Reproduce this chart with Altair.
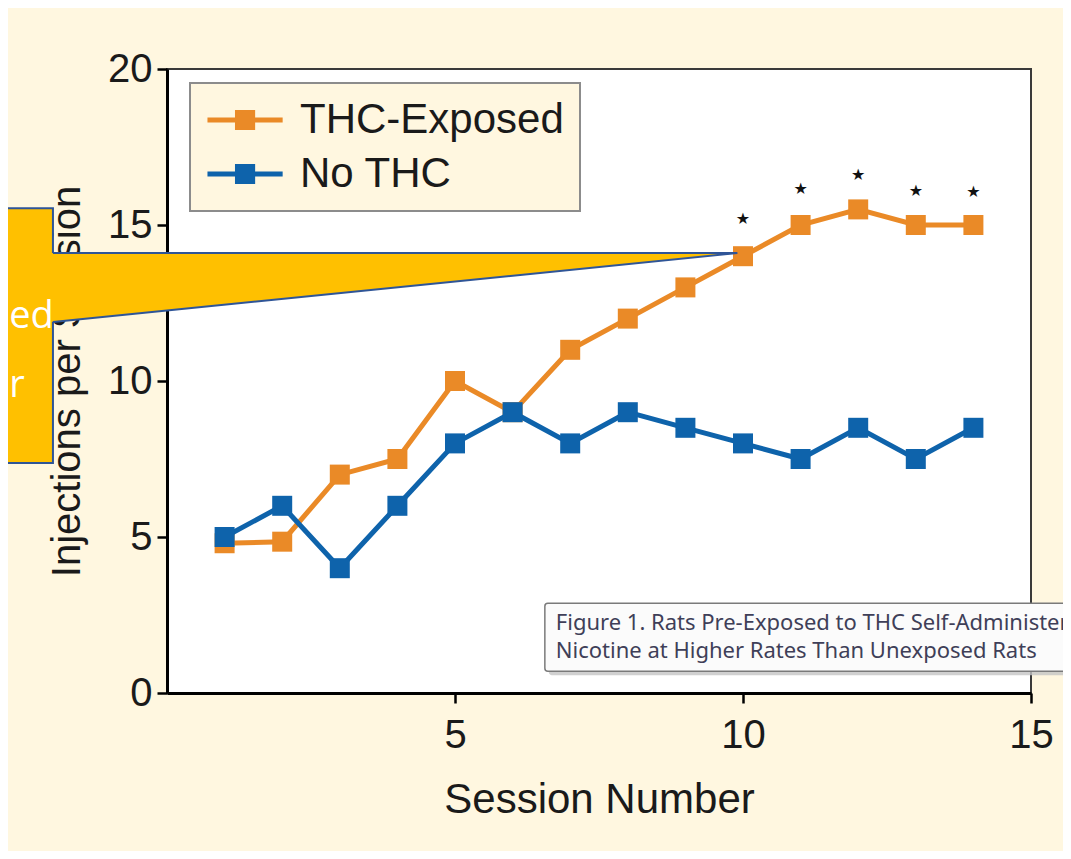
import altair as alt
import pandas as pd

# ---------------- data ----------------
sessions = list(range(1, 15))
thc_exposed = [4.8, 4.85, 7.0, 7.5, 10.0, 9.0, 11.0, 12.0, 13.0, 14.0, 15.0, 15.5, 15.0, 15.0]
no_thc = [5.0, 6.0, 4.0, 6.0, 8.0, 9.0, 8.0, 9.0, 8.5, 8.0, 7.5, 8.5, 7.5, 8.5]
series_names = ["THC-Exposed", "No THC"]
series_colors = ["#EA8A27", "#0E63AB"]
star_sessions = [10, 11, 12, 13, 14]
star_levels = [15.2, 16.15, 16.6, 16.1, 16.05]
x_tick_values = [5, 10, 15]
y_tick_values = [0, 5, 10, 15, 20]
caption_lines = [
    "Figure 1. Rats Pre-Exposed to THC Self-Administer",
    "Nicotine at Higher Rates Than Unexposed Rats",
]
callout_words = ["ed", "r"]

# ---------------- annotation geometry (data units) ----------------
callout_box = dict(x=[-3.3], x2=[-1.98], y=[7.37], y2=[15.54])
wedge = dict(x=[-2.03, 9.9], y=[14.1, 14.1], y2=[11.89, 14.1])
wedge_edges = dict(edge=["top", "top", "bottom", "bottom"],
                   x=[-1.98, 9.9, -1.98, 9.9], y=[14.1, 14.1, 11.89, 14.1])
callout_text_pos = dict(x=[-2.74, -2.74], y=[11.7, 9.5])
caption_box = dict(x=[6.56], x2=[16.5], y=[0.70], y2=[2.88])
caption_text_pos = dict(x=[6.75, 6.75], y=[2.02, 1.12])

FONT = "Liberation Sans"
W, H = 864, 624
BG = "#FFF7E0"
GOLD = "#FFC000"
EDGE = "#2F5597"

xs = alt.Scale(domain=[0, 15], nice=False, zero=False)
ys = alt.Scale(domain=[0, 20], nice=False, zero=False)

x_axis = alt.Axis(values=x_tick_values, title="Session Number", grid=False,
                  labelFont=FONT, labelFontSize=40, labelColor="#1a1a1a",
                  labelPadding=12, labelFlush=False, labelOverlap=False,
                  tickSize=10, tickWidth=2.5, tickColor="black",
                  domainColor="black", domainWidth=3,
                  titleFont=FONT, titleFontSize=42, titleFontWeight="normal",
                  titleColor="#1a1a1a", titlePadding=24)
y_axis = alt.Axis(values=y_tick_values, title="Injections per Session", grid=False,
                  labelFont=FONT, labelFontSize=40, labelColor="#1a1a1a",
                  labelPadding=5, labelFlush=False, labelOverlap=False,
                  tickSize=10, tickWidth=2.5, tickColor="black",
                  domainColor="black", domainWidth=3,
                  titleFont=FONT, titleFontSize=40, titleFontWeight="normal",
                  titleColor="#1a1a1a", titlePadding=20)

# legend glyph: a short line with a square on it (unit = 21 px)
legend_path = ("M-0.93,-0.12L2.65,-0.12L2.65,0.12L-0.93,0.12Z "
               "M0.38,-0.48L1.34,-0.48L1.34,0.48L0.38,0.48Z")
legend = alt.Legend(title=None, orient="none", legendX=23, legendY=14,
                    fillColor=BG, strokeColor="#8c8c8c",
                    padding=16, labelFont=FONT, labelFontSize=42,
                    labelColor="#1a1a1a", labelLimit=500, labelOffset=52,
                    labelExpr="datum.label + '\u00a0\u00a0\u00a0'",
                    symbolType=legend_path, symbolSize=1764,
                    symbolStrokeWidth=0, symbolOpacity=1, rowPadding=12)

color_scale = alt.Scale(domain=series_names, range=series_colors)

rows = []
for name, vals in zip(series_names, [thc_exposed, no_thc]):
    for s, v in zip(sessions, vals):
        rows.append({"session": s, "value": v, "series": name})
df = pd.DataFrame(rows)

def ax(field):
    return alt.X(field, type="quantitative", scale=xs, axis=x_axis)

def ay(field):
    return alt.Y(field, type="quantitative", scale=ys, axis=y_axis)

layers = []
for name in series_names:
    sub = df[df["series"] == name]
    line = alt.Chart(sub).mark_line(strokeWidth=5).encode(
        x=ax("session"), y=ay("value"),
        color=alt.Color("series:N", scale=color_scale, legend=legend))
    pts = alt.Chart(sub).mark_square(size=400, opacity=1).encode(
        x=ax("session"), y=ay("value"),
        color=alt.Color("series:N", scale=color_scale, legend=legend))
    layers += [line, pts]

stars = alt.Chart(pd.DataFrame({"session": star_sessions, "level": star_levels})).mark_text(
    text="★", font="DejaVu Sans", fontSize=16, color="#111", baseline="middle"
).encode(x=ax("session"), y=ay("level"))

# callout (drawn over the axis title)
box = alt.Chart(pd.DataFrame(callout_box)).mark_rect(
    fill=GOLD, stroke=EDGE, strokeWidth=2).encode(
    x=ax("x"), x2="x2", y=ay("y"), y2="y2")
wedge_fill = alt.Chart(pd.DataFrame(wedge)).mark_area(fill=GOLD, opacity=1).encode(
    x=ax("x"), y=ay("y"), y2="y2")
wedge_line = alt.Chart(pd.DataFrame(wedge_edges)).mark_line(
    color=EDGE, strokeWidth=2).encode(x=ax("x"), y=ay("y"), detail="edge:N")
callout_txt = alt.Chart(pd.DataFrame({"word": callout_words, **callout_text_pos})).mark_text(
    font="Open Sans", fontSize=38, color="white", align="left", baseline="alphabetic"
).encode(x=ax("x"), y=ay("y"), text="word:N")

# caption pop-up
cap_shadow = alt.Chart(pd.DataFrame(caption_box)).mark_rect(
    fill="#c4c4c4", opacity=0.8, cornerRadius=3, xOffset=4, yOffset=4, x2Offset=4, y2Offset=4).encode(
    x=ax("x"), x2="x2", y=ay("y"), y2="y2")
cap_box = alt.Chart(pd.DataFrame(caption_box)).mark_rect(
    fill="#FBFBFB", stroke="#7a7a7a", strokeWidth=1.5, cornerRadius=3).encode(
    x=ax("x"), x2="x2", y=ay("y"), y2="y2")
cap_txt = alt.Chart(pd.DataFrame({"line": caption_lines, **caption_text_pos})).mark_text(
    font="Noto Sans", fontSize=22, color="#3f3f58", align="left", baseline="alphabetic"
).encode(x=ax("x"), y=ay("y"), text="line:N")

chart = alt.layer(
    *layers, stars, cap_shadow, cap_box, cap_txt, box, wedge_fill, wedge_line, callout_txt
).properties(
    width=W, height=H, background=BG,
    padding={"left": 159, "top": 61, "right": 32, "bottom": 158},
    autosize=alt.AutoSizeParams(type="none"),
).configure_view(fill="white", stroke="#3a3a3a", strokeWidth=2
).configure_legend(strokeWidth=2)

chart.save("out.html", embed_options={"renderer": "svg", "actions": False})
